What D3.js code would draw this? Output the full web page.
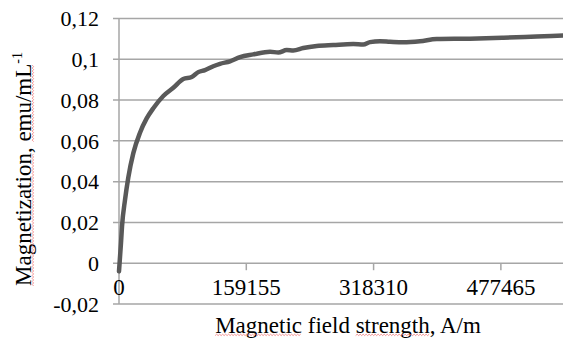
<!DOCTYPE html>
<html>
<head>
<meta charset="utf-8">
<script src="https://cdn.jsdelivr.net/npm/d3@7"></script>
<style>
  html, body { margin: 0; padding: 0; background: #fff; }
</style>
</head>
<body>
<svg id="chart" width="563" height="342"></svg>
<script>
// field strength in A/m, magnetization in emu/mL
const fieldStrength = [
  0, 2500, 3750, 7500, 11600, 17900, 26250, 34600, 42900, 55400,
  67900, 80400, 90900, 99100, 107500, 117900, 126300, 138800, 151300, 167900,
  188800, 199200, 209700, 217900, 230400, 247200, 267900, 292900, 305400, 313800,
  326300, 338800, 355100, 376300, 397200, 438800, 480500, 522200, 556000
];
const magnetization = [
  -0.004, 0.01, 0.018, 0.031, 0.042, 0.054, 0.064, 0.071, 0.076, 0.082,
  0.086, 0.0903, 0.0913, 0.0937, 0.0947, 0.0966, 0.0978, 0.099, 0.1011, 0.1024,
  0.1037, 0.1033, 0.1045, 0.1043, 0.1055, 0.1065, 0.107, 0.1075, 0.1072, 0.1084,
  0.1089, 0.1086, 0.1083, 0.1088, 0.1099, 0.1101, 0.1106, 0.1112, 0.1117
];
const yTicks = [-0.02, 0, 0.02, 0.04, 0.06, 0.08, 0.1, 0.12];
const xTicks = [159155, 318310, 477465];

const svg = d3.select("#chart");
const gridColor = "#a6a6a6";
const lineColor = "#595959";
const serif = "'Liberation Serif', Tinos, 'Times New Roman', Times";

const x = d3.scaleLinear().domain([0, 556000]).range([119, 563.7]);
const y = d3.scaleLinear().domain([-0.02, 0.12]).range([304, 18.5]);

const fmtY = (v) => (v === 0 ? "0" : String(+v.toFixed(2)).replace(".", ","));

// horizontal gridlines + left tick stubs
svg.append("g")
  .selectAll("line")
  .data(yTicks)
  .join("line")
  .attr("x1", 113)
  .attr("x2", 563)
  .attr("y1", (d) => y(d))
  .attr("y2", (d) => y(d))
  .attr("stroke", gridColor)
  .attr("stroke-width", 1.5);

// left axis line
svg.append("line")
  .attr("x1", x(0)).attr("x2", x(0))
  .attr("y1", y(0.12)).attr("y2", y(-0.02))
  .attr("stroke", gridColor)
  .attr("stroke-width", 1.5);

// x ticks hanging from the zero line
svg.append("g")
  .selectAll("line")
  .data(xTicks)
  .join("line")
  .attr("x1", (d) => x(d))
  .attr("x2", (d) => x(d))
  .attr("y1", y(0))
  .attr("y2", y(0) + 7)
  .attr("stroke", gridColor)
  .attr("stroke-width", 1.5);

// y tick labels
svg.append("g")
  .selectAll("text")
  .data(yTicks)
  .join("text")
  .attr("x", 99)
  .attr("y", (d) => y(d))
  .attr("dy", "0.35em")
  .attr("text-anchor", "end")
  .style("font-family", serif)
  .attr("font-size", 22)
  .attr("fill", "#000")
  .text(fmtY);

// x tick labels
svg.append("g")
  .selectAll("text")
  .data([0, ...xTicks])
  .join("text")
  .attr("x", (d) => x(d))
  .attr("y", 295)
  .attr("text-anchor", "middle")
  .style("font-family", serif)
  .attr("font-size", 23)
  .attr("fill", "#000")
  .text((d) => d);

// the curve
svg.append("defs").append("clipPath").attr("id", "plot-clip")
  .append("rect").attr("x", 110).attr("y", 10).attr("width", 460).attr("height", 300);

const line = d3.line()
  .x((d, i) => x(fieldStrength[i]))
  .y((d) => y(d))
  .curve(d3.curveMonotoneX);

svg.append("path")
  .datum(magnetization)
  .attr("clip-path", "url(#plot-clip)")
  .attr("d", line)
  .attr("fill", "none")
  .attr("stroke", lineColor)
  .attr("stroke-width", 4.5)
  .attr("stroke-linejoin", "round")
  .attr("stroke-linecap", "round");

// x axis title
const xTitleG = svg.append("g").attr("transform", "translate(348,333)");
const xTitle = xTitleG.append("text")
  .attr("text-anchor", "middle")
  .style("font-family", serif)
  .attr("font-size", 23)
  .attr("fill", "#000")
  .text("Magnetic field strength, A/m");

// y axis title (rotated)
const yTitleG = svg.append("g").attr("transform", "translate(31,169) rotate(-90)");
const yTitle = yTitleG.append("text")
  .attr("text-anchor", "middle")
  .style("font-family", serif)
  .attr("font-size", 23)
  .attr("fill", "#000");
yTitle.append("tspan").text("Magnetization, emu/mL");
yTitle.append("tspan").attr("font-size", 14).attr("dy", -9).text("-1");

// red spell-check squiggle under a text span, in the text's own frame
function squiggle(group, x0, x1, baseY) {
  const pts = [];
  for (let px = x0, k = 0; px <= x1; px += 1.5, k++) pts.push([px, baseY + (k % 2 ? 1.2 : 2.6)]);
  group.append("path")
    .attr("d", d3.line()(pts))
    .attr("fill", "none")
    .attr("stroke", "#f07a7a")
    .attr("stroke-width", 0.8);
}

// measure only once fonts are settled
document.fonts.ready.then(() => {
  {
    const node = xTitle.node();
    const s = "Magnetic field strength, A/m";
    const start = -node.getComputedTextLength() / 2;
    squiggle(xTitleG, start, start + node.getSubStringLength(0, 8), 0);
    const i2 = s.indexOf("strength");
    const a2 = node.getSubStringLength(0, i2);
    squiggle(xTitleG, start + a2, start + a2 + node.getSubStringLength(i2, 8), 0);
  }
  {
    const node = yTitle.node();
    const start = -node.getComputedTextLength() / 2;
    squiggle(yTitleG, start, start + node.getSubStringLength(0, 13), 0);
    const a2 = node.getSubStringLength(0, 15);
    squiggle(yTitleG, start + a2, start + a2 + node.getSubStringLength(15, 6), 0);
  }
});
</script>
</body>
</html>
